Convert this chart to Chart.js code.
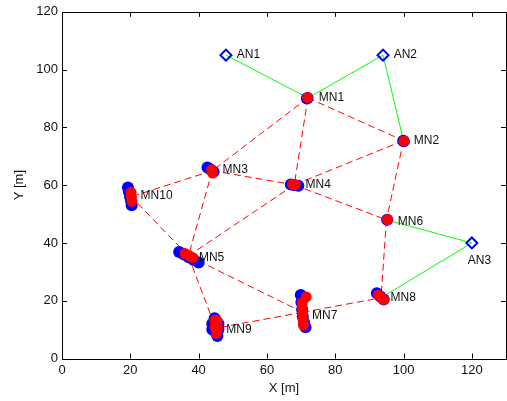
<!DOCTYPE html>
<html>
<head>
<meta charset="utf-8">
<script src="https://cdn.jsdelivr.net/npm/chart.js@4.4.1/dist/chart.umd.min.js"></script>
<style>
  html, body { margin: 0; padding: 0; background: #fff; }
  #wrap { width: 507px; height: 401px; }
</style>
</head>
<body>
<div id="wrap"><canvas id="chart"></canvas></div>
<script>
const xTicks = [0, 20, 40, 60, 80, 100, 120];
const yTicks = [0, 20, 40, 60, 80, 100, 120];

// anchor nodes
const anchorNames = ['AN1', 'AN2', 'AN3'];
const anchorX = [48, 94, 120];
const anchorY = [105, 105, 40];

// mobile nodes (cluster centres)
const nodeNames = ['MN1', 'MN2', 'MN3', 'MN4', 'MN5', 'MN6', 'MN7', 'MN8', 'MN9', 'MN10'];
const nodeX = [72, 100, 44, 68, 37, 95, 70.5, 93.4, 45, 20.3];
const nodeY = [90.2, 75.4, 65, 60.1, 35.5, 48, 16, 21, 10.5, 56];

const meshLinks = [
    ['MN1', 'MN2'], ['MN1', 'MN3'], ['MN1', 'MN4'], ['MN2', 'MN4'],
    ['MN2', 'MN6'], ['MN3', 'MN4'], ['MN3', 'MN10'], ['MN3', 'MN5'],
    ['MN4', 'MN5'], ['MN4', 'MN6'], ['MN5', 'MN10'], ['MN5', 'MN9'],
    ['MN5', 'MN7'], ['MN6', 'MN8'], ['MN7', 'MN9'], ['MN7', 'MN8']
];
const anchorLinks = [
    ['AN1', 'MN1'], ['AN2', 'MN1'], ['AN2', 'MN2'], ['AN3', 'MN6'], ['AN3', 'MN8']
];

// position estimates: blue and red clouds, one row per node
const blueCloud = [
    [71.9, 90.2], [71.7, 90],
    [99.9, 75.4], [100.1, 75.2],
    [42.6, 66.1], [43.5, 65.4], [44.4, 64.6],
    [67, 60.2], [68.1, 60], [69.2, 59.8],
    [34.3, 36.9], [35.7, 36], [37.1, 35], [38.6, 34.1], [40, 33.2],
    [95.2, 48],
    [69.9, 22], [70.1, 19.5], [70.3, 17], [70.5, 14.5], [70.9, 12.5], [71.3, 10.8],
    [92.2, 22.6], [93.2, 21.5], [94.2, 20.4],
    [44.7, 13.9], [44, 12], [45.8, 12], [44, 10], [45.8, 10], [45.5, 7.8], [45, 9],
    [19.3, 59.2], [19.6, 57.6], [19.9, 56.1], [20.2, 54.5], [20.4, 53]
];
const redCloud = [
    [71.9, 90.3],
    [100.1, 75.3],
    [43.8, 65.3], [44.1, 64.2],
    [67.5, 60.3], [68.3, 60.1],
    [36, 36.3], [37.2, 35.6], [38.3, 34.9],
    [95.3, 48.1],
    [70.3, 19.3], [70.4, 17.3], [70.5, 15.3], [70.6, 13.4], [70.7, 11.5], [71.5, 21.3],
    [92.6, 22], [93.5, 21.1], [94.2, 20.4],
    [44.8, 13.3], [45.4, 13], [44.8, 11], [45.5, 10.5], [45.2, 8.7],
    [20.2, 57.5], [20.3, 56], [20.5, 54.4]
];

// text labels
const labelNames = ['AN1', 'AN2', 'AN3', 'MN1', 'MN2', 'MN3', 'MN4', 'MN5', 'MN6', 'MN7', 'MN8', 'MN9', 'MN10'];
const labelX = [51.2, 97.1, 118.8, 75.2, 103, 47, 71.3, 40.1, 98.3, 73.2, 96.2, 48.1, 23];
const labelY = [105.3, 105.3, 34, 90.2, 75.4, 65.4, 60, 35, 47.3, 14.9, 20.9, 10, 56.2];

const FONT = '"Liberation Sans", Arial, sans-serif';

const pos = name => {
    let i = nodeNames.indexOf(name);
    if (i >= 0) return { x: nodeX[i], y: nodeY[i] };
    i = anchorNames.indexOf(name);
    return { x: anchorX[i], y: anchorY[i] };
};

const datasets = [];

datasets.push({
    data: redCloud.map(p => ({ x: p[0], y: p[1] })),
    pointRadius: 5.5, pointBorderWidth: 0,
    pointBackgroundColor: '#ff0000', order: 0
});
datasets.push({
    data: blueCloud.map(p => ({ x: p[0], y: p[1] })),
    pointRadius: 6, pointBorderWidth: 0,
    pointBackgroundColor: '#0000ff', order: 1
});
datasets.push({
    data: anchorX.map((x, i) => ({ x, y: anchorY[i] })),
    pointStyle: 'rectRot', pointRadius: 5.5, pointBorderWidth: 2,
    pointBorderColor: '#0000ff', pointBackgroundColor: 'rgba(0,0,0,0)', order: 0
});

meshLinks.forEach(l => {
    datasets.push({
        data: [pos(l[0]), pos(l[1])],
        showLine: true, pointRadius: 0,
        borderColor: '#ff0000', borderWidth: 1, borderDash: [7, 4], order: 3
    });
});
anchorLinks.forEach(l => {
    datasets.push({
        data: [pos(l[0]), pos(l[1])],
        showLine: true, pointRadius: 0,
        borderColor: '#00ff00', borderWidth: 1, order: 2
    });
});

const frame = {
    id: 'frame',
    afterDatasetsDraw(chart) {
        const { ctx, chartArea: a, scales: { x, y } } = chart;
        ctx.save();
        ctx.strokeStyle = '#000';
        ctx.lineWidth = 1;
        ctx.beginPath();
        xTicks.forEach(v => {
            const px = Math.round(x.getPixelForValue(v)) + 0.5;
            ctx.moveTo(px, a.bottom); ctx.lineTo(px, a.bottom - 5);
            ctx.moveTo(px, a.top); ctx.lineTo(px, a.top + 5);
        });
        yTicks.forEach(v => {
            const py = Math.round(y.getPixelForValue(v)) + 0.5;
            ctx.moveTo(a.left, py); ctx.lineTo(a.left + 5, py);
            ctx.moveTo(a.right, py); ctx.lineTo(a.right - 5, py);
        });
        ctx.stroke();
        ctx.strokeRect(Math.round(a.left) + 0.5, Math.round(a.top) + 0.5,
            Math.round(a.right - a.left), Math.round(a.bottom - a.top));

        ctx.font = '12px ' + FONT;
        ctx.fillStyle = '#111';
        ctx.textBaseline = 'middle';
        labelNames.forEach((t, i) => {
            ctx.fillText(t, x.getPixelForValue(labelX[i]), y.getPixelForValue(labelY[i]));
        });
        ctx.restore();
    }
};

new Chart(document.getElementById('chart'), {
    type: 'scatter',
    data: { datasets },
    options: {
        animation: false,
        responsive: true,
        maintainAspectRatio: false,
        layout: { autoPadding: false, padding: { left: 0, top: 9, right: 1, bottom: 0 } },
        plugins: {
            legend: { display: false },
            tooltip: { enabled: false }
        },
        scales: {
            x: {
                type: 'linear', min: 0, max: 130,
                afterBuildTicks: s => { s.ticks = xTicks.map(v => ({ value: v })); },
                afterFit: s => { s.height = 42.5; },
                grid: { display: false, drawTicks: false },
                border: { display: false },
                ticks: { padding: 4, color: '#111', font: { size: 13, family: FONT } },
                title: { display: true, text: 'X [m]', color: '#111',
                    font: { size: 13, family: FONT }, padding: { top: 0, bottom: 5 } }
            },
            y: {
                type: 'linear', min: 0, max: 120,
                afterBuildTicks: s => { s.ticks = yTicks.map(v => ({ value: v })); },
                afterFit: s => { s.width = 62; },
                grid: { display: false, drawTicks: false },
                border: { display: false },
                ticks: { padding: 4, color: '#111', font: { size: 13, family: FONT } },
                title: { display: true, text: 'Y [m]', color: '#111',
                    font: { size: 13, family: FONT }, padding: { top: 12, bottom: 0 } }
            }
        }
    },
    plugins: [frame]
});
</script>
</body>
</html>
